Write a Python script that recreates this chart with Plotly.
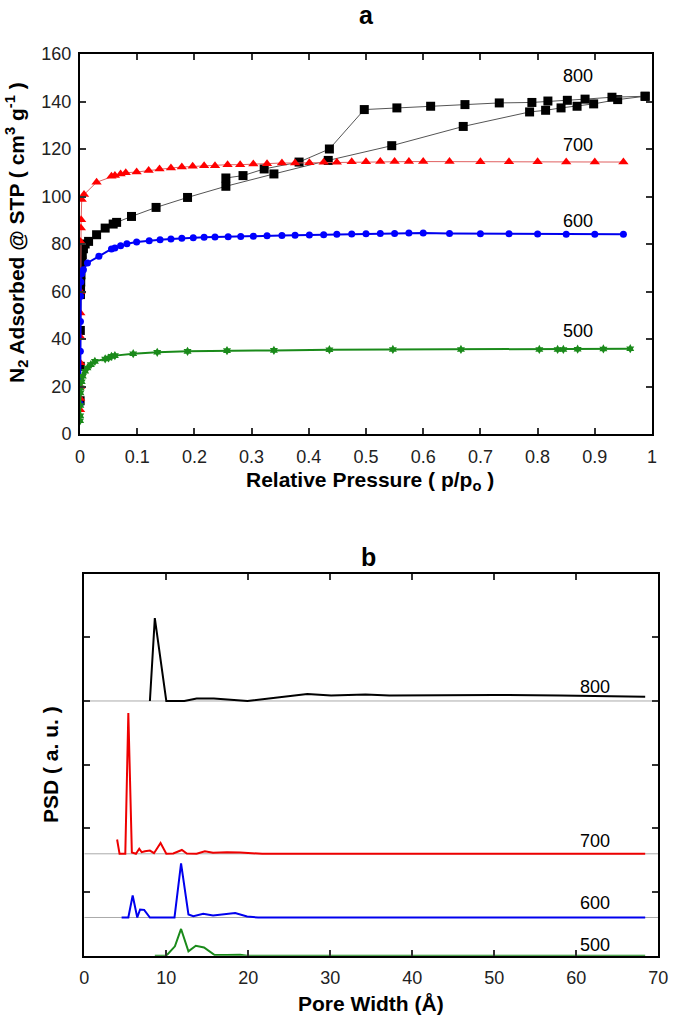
import plotly.graph_objects as go

W, H = 675, 1018

# ---------------- Panel a data: N2 isotherms ----------------
p500 = [0.0002, 0.0004, 0.0006, 0.0008, 0.001, 0.003, 0.005, 0.009, 0.013, 0.019, 0.026, 0.044,
        0.05, 0.055, 0.061, 0.093, 0.135, 0.188, 0.257, 0.339, 0.436, 0.547, 0.666, 0.803, 0.835,
        0.845, 0.87, 0.915, 0.962]
v500 = [5.6, 7.7, 12.0, 17.3, 19.4, 22.0, 24.3, 26.4, 27.8, 29.2, 30.6, 31.6,
        32.0, 32.7, 33.0, 33.8, 34.4, 34.8, 35.1, 35.2, 35.5, 35.6, 35.6, 35.6, 35.6,
        35.6, 35.7, 35.8, 35.9]

p600 = [0.0002, 0.0004, 0.0006, 0.0008, 0.001, 0.0015, 0.003, 0.006, 0.013, 0.033, 0.055, 0.061,
        0.071, 0.082, 0.099, 0.121, 0.14, 0.159, 0.178, 0.198, 0.217, 0.236, 0.259, 0.281, 0.303,
        0.327, 0.353, 0.376, 0.401, 0.426, 0.449, 0.475, 0.5, 0.525, 0.55, 0.575, 0.6, 0.646,
        0.7, 0.75, 0.8, 0.85, 0.9, 0.95]
v600 = [12.6, 22.9, 34.8, 47.4, 58.0, 64.0, 67.5, 69.2, 72.0, 74.8, 77.9, 78.3,
        79.3, 80.1, 80.8, 81.4, 81.8, 82.1, 82.4, 82.6, 82.8, 82.9, 83.1, 83.2, 83.3,
        83.5, 83.6, 83.7, 83.8, 83.9, 84.1, 84.2, 84.3, 84.4, 84.4, 84.6, 84.6, 84.4,
        84.3, 84.3, 84.2, 84.1, 84.1, 84.1]

p700 = [0.0001, 0.0002, 0.0003, 0.0004, 0.0005, 0.0006, 0.0008, 0.001, 0.0015, 0.002, 0.003, 0.007,
        0.029, 0.055, 0.061, 0.071, 0.08, 0.099, 0.12, 0.139, 0.159, 0.178, 0.197, 0.217, 0.236,
        0.258, 0.28, 0.303, 0.327, 0.353, 0.376, 0.401, 0.426, 0.449, 0.475, 0.5, 0.525, 0.55,
        0.575, 0.6, 0.646, 0.7, 0.75, 0.8, 0.85, 0.9, 0.95]
v700 = [10.2, 15.0, 20.0, 30.0, 41.0, 51.0, 60.0, 81.0, 86.7, 90.2, 98.7, 100.8,
        106.0, 108.5, 108.8, 109.5, 110.0, 110.3, 111.0, 111.6, 112.0, 112.4, 112.7, 113.0, 113.0,
        113.4, 113.4, 113.7, 113.8, 114.1, 114.1, 114.2, 114.4, 114.4, 114.6, 114.6, 114.7, 114.7,
        114.7, 114.7, 114.7, 114.6, 114.6, 114.6, 114.5, 114.5, 114.5]

p800_ads = [0.0002, 0.0004, 0.0006, 0.0008, 0.001, 0.0013, 0.0017, 0.002, 0.003, 0.004, 0.006, 0.009,
            0.015, 0.029, 0.044, 0.058, 0.064, 0.09, 0.133, 0.188, 0.255, 0.339, 0.434, 0.545,
            0.67, 0.786, 0.814, 0.841, 0.869, 0.898, 0.94, 0.988]
v800_ads = [14.0, 28.5, 43.6, 58.7, 61.0, 64.0, 67.0, 70.0, 73.0, 75.5, 78.0, 80.0,
            81.1, 83.9, 86.7, 88.4, 89.1, 91.6, 95.4, 99.6, 104.3, 109.5, 115.2, 121.4,
            129.5, 135.6, 136.3, 137.3, 138.0, 139.0, 140.8, 142.2]
p800_des = [0.988, 0.93, 0.883, 0.852, 0.818, 0.79, 0.733, 0.673, 0.613, 0.554, 0.497, 0.436,
            0.383, 0.322, 0.285, 0.255]
v800_des = [142.2, 141.8, 141.0, 140.5, 140.2, 139.6, 139.4, 138.7, 138.0, 137.3, 136.6, 120.0,
            114.5, 111.6, 108.8, 107.8]

# ---------------- Panel b data: pore size distributions ----------------
w800 = [8.0, 8.6, 10.0, 12.2, 13.7, 15.8, 19.9, 23.5, 27.2, 30.1, 34.3, 37.2, 43.7, 50.0, 58.0, 68.4]
d800 = [0.0, 1.30, 0.0, 0.0, 0.04, 0.037, 0.0, 0.06, 0.11, 0.084, 0.10, 0.085, 0.094, 0.094, 0.085, 0.068]

w700 = [4.0, 4.3, 5.0, 5.37, 5.8, 6.3, 6.7, 7.0, 7.4, 8.0, 8.5, 9.3, 10.0, 10.85, 11.9, 12.5,
        13.7, 14.7, 15.7, 17.4, 19.0, 21.7, 68.4]
d700 = [0.225, 0.0, 0.0, 2.21, 0.02, 0.0, 0.08, 0.025, 0.04, 0.05, 0.01, 0.17, 0.0, 0.005, 0.06, 0.005,
        0.0, 0.04, 0.015, 0.025, 0.02, 0.0, 0.0]

w600 = [4.55, 5.37, 5.9, 6.46, 6.8, 7.3, 8.0, 11.0, 11.8, 12.7, 13.3, 14.5, 15.7, 17.3, 18.4, 19.85,
        21.2, 68.4]
d600 = [0.0, 0.0, 0.345, 0.0, 0.126, 0.12, 0.0, 0.0, 0.85, 0.047, 0.02, 0.058, 0.03, 0.058, 0.07, 0.015,
        0.0, 0.0]

w500 = [8.6, 10.0, 11.05, 11.8, 12.7, 13.6, 14.6, 15.9, 17.4, 18.4, 19.0, 19.85, 68.4]
d500 = [0.0, 0.0, 0.147, 0.42, 0.068, 0.157, 0.13, 0.01, 0.01, 0.02, 0.016, 0.0, 0.0]

# vertical offsets of the stacked PSD curves
off500, off600, off700, off800 = 0.0, 0.6, 1.6, 4.0

labels = ["500", "600", "700", "800"]

FONT = "Liberation Sans, Arial, sans-serif"

# ---------------- Figure ----------------
fig = go.Figure()

# panel a traces
fig.add_trace(go.Scatter(x=p800_ads, y=v800_ads, mode="lines+markers", xaxis="x", yaxis="y",
                         line=dict(color="#555555", width=1),
                         marker=dict(symbol="square", size=9, color="black"), showlegend=False))
fig.add_trace(go.Scatter(x=p800_des, y=v800_des, mode="lines+markers", xaxis="x", yaxis="y",
                         line=dict(color="#555555", width=1),
                         marker=dict(symbol="square", size=9, color="black"), showlegend=False))
fig.add_trace(go.Scatter(x=p700, y=v700, mode="lines+markers", xaxis="x", yaxis="y",
                         line=dict(color="#e06060", width=1),
                         marker=dict(symbol="triangle-up", size=9, color="#ff0000"), showlegend=False))
fig.add_trace(go.Scatter(x=p600, y=v600, mode="lines+markers", xaxis="x", yaxis="y",
                         line=dict(color="#0000ee", width=2),
                         marker=dict(symbol="circle", size=7, color="#0000ff"), showlegend=False))
fig.add_trace(go.Scatter(x=p500, y=v500, mode="lines+markers", xaxis="x", yaxis="y",
                         line=dict(color="#1a8a1a", width=2),
                         marker=dict(symbol="hexagram", size=7, color="#1a8a1a"), showlegend=False))

# panel b traces
for w, d, off, col in [(w500, d500, off500, "#1a8a1a"), (w600, d600, off600, "#0000ee"),
                       (w700, d700, off700, "#ee0000"), (w800, d800, off800, "black")]:
    fig.add_trace(go.Scatter(x=w, y=[v + off for v in d], mode="lines", xaxis="x2", yaxis="y2",
                             line=dict(color=col, width=2), showlegend=False))

# baselines in panel b
shapes = []
for off in [off600, off700, off800]:
    shapes.append(dict(type="line", xref="x2", yref="y2", x0=0, x1=70, y0=off, y1=off,
                       line=dict(color="#aaaaaa", width=1), layer="below"))

# annotations
font_lab = dict(family=FONT, size=18, color="black")
title_font = dict(family=FONT, size=21, color="black")
C = dict(showarrow=False, xanchor="center", yanchor="middle")
ann = []
for lab, yy in zip(labels, [43.2, 89.8, 121.8, 150.6]):
    ann.append(dict(x=0.87, y=yy, xref="x", yref="y", text=lab, font=font_lab, **C))
for lab, yy in zip(labels, [0.17, 0.83, 1.8, 4.22]):
    ann.append(dict(x=62.3, y=yy, xref="x2", yref="y2", text=lab, font=font_lab, **C))
ann.append(dict(x=366 / W, y=1 - 15 / H, xref="paper", yref="paper", text="<b>a</b>",
                font=dict(family=FONT, size=25, color="black"), **C))
ann.append(dict(x=368 / W, y=1 - 557 / H, xref="paper", yref="paper", text="<b>b</b>",
                font=dict(family=FONT, size=25, color="black"), **C))
# axis titles
ann.append(dict(x=370 / W, y=1 - 481 / H, xref="paper", yref="paper",
                text="<b>Relative Pressure ( p/p<sub>o</sub> )</b>", font=title_font, **C))
ann.append(dict(x=17 / W, y=1 - 233 / H, xref="paper", yref="paper", textangle=-90,
                text="<b>N<sub>2</sub> Adsorbed @ STP ( cm<sup>3</sup> g<sup>-1</sup> )</b>",
                font=title_font, **C))
ann.append(dict(x=371 / W, y=1 - 1003 / H, xref="paper", yref="paper",
                text="<b>Pore Width (Å)</b>", font=title_font, **C))
ann.append(dict(x=50 / W, y=1 - 765 / H, xref="paper", yref="paper", textangle=-90,
                text="<b>PSD ( a. u. )</b>", font=title_font, **C))

tickfont = dict(family=FONT, size=18, color="#222222")

common = dict(showline=True, mirror="ticks", linecolor="black", linewidth=2, ticks="inside",
              ticklen=6, tickcolor="#333333", tickwidth=1.5, showgrid=False, zeroline=False,
              tickfont=tickfont, automargin=False)

fig.update_layout(
    width=W, height=H,
    margin=dict(l=0, r=0, t=0, b=0),
    paper_bgcolor="white", plot_bgcolor="white",
    xaxis=dict(domain=[80 / W, 652 / W], anchor="y", range=[0, 1], dtick=0.1,
               ticklabelstandoff=5, **common),
    yaxis=dict(domain=[1 - 434 / H, 1 - 54 / H], anchor="x", range=[0, 160], dtick=20,
               ticklabelstandoff=3, **common),
    xaxis2=dict(domain=[84.3 / W, 658.3 / W], anchor="y2", range=[0, 70], dtick=10,
                ticklabelstandoff=5, **common),
    yaxis2=dict(domain=[1 - 955.7 / H, 1 - 573.6 / H], anchor="x2", range=[0, 6], dtick=1,
                showticklabels=False, **common),
    shapes=shapes,
    annotations=ann,
)

fig.write_html("out.html", config={"displayModeBar": False},
               post_script="document.body.style.margin='0px';")
